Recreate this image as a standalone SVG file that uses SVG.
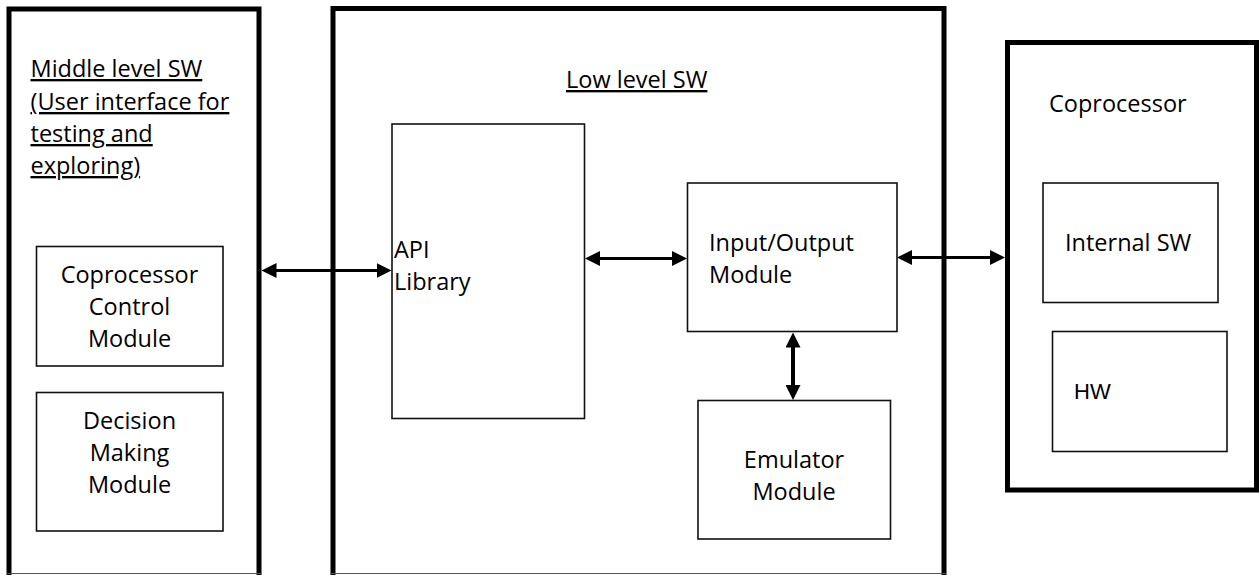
<svg xmlns="http://www.w3.org/2000/svg" width="1259" height="575" viewBox="0 0 1259 575">
<style>
.outer{fill:none;stroke:#000;stroke-width:5}
.edge{fill:none;stroke:#555;stroke-width:1.2}
.inner{fill:none;stroke:#111;stroke-width:1.6}
.t{font-family:"Open Sans","Liberation Sans",sans-serif;font-size:23.5px;fill:#000}
.u{text-decoration:underline}
.c{text-anchor:middle}
.hw{font-family:"Liberation Sans",Arial,sans-serif;font-size:22px;fill:#000}
.conn{fill:none;stroke:#000;stroke-width:3}
</style>
<defs>
<marker id="ah" viewBox="0 0 15 15" refX="11" refY="7.5" markerWidth="15" markerHeight="15" markerUnits="userSpaceOnUse" orient="auto-start-reverse">
<path d="M0,0 L15,7.5 L0,15 z" fill="#000"/>
</marker>
</defs>
<rect width="1259" height="575" fill="#fff"/>

<g id="middle-level-sw">
<path class="outer" d="M9,590 V9 H259 V590"/>
<line class="edge" x1="6.5" y1="573.5" x2="261.5" y2="573.5"/>
<text class="t u" x="30.5" y="77">Middle level SW</text>
<text class="t u" x="30.5" y="110">(User interface for</text>
<text class="t u" x="30.5" y="142">testing and</text>
<text class="t u" x="30.5" y="174">exploring)</text>
</g>

<g id="coprocessor-control-module">
<rect class="inner" x="36.5" y="246.5" width="186.5" height="119.5"/>
<text class="t c" x="129.5" y="283">Coprocessor</text>
<text class="t c" x="129.5" y="315">Control</text>
<text class="t c" x="129.5" y="347">Module</text>
</g>

<g id="decision-making-module">
<rect class="inner" x="36.5" y="392.5" width="186.5" height="138.5"/>
<text class="t c" x="129.5" y="429">Decision</text>
<text class="t c" x="129.5" y="461">Making</text>
<text class="t c" x="129.5" y="493">Module</text>
</g>

<g id="low-level-sw">
<path class="outer" d="M333,590 V8.5 H944 V590"/>
<line class="edge" x1="330.5" y1="573.5" x2="946.5" y2="573.5"/>
<text class="t u" x="566" y="88">Low level SW</text>
</g>

<g id="api-library">
<rect class="inner" x="392" y="124" width="192.5" height="294.5"/>
<text class="t" x="394" y="257.5">API</text>
<text class="t" x="394" y="290">Library</text>
</g>

<g id="io-module">
<rect class="inner" x="687.5" y="183" width="209.5" height="148.5"/>
<text class="t" x="709" y="251">Input/Output</text>
<text class="t" x="709" y="283">Module</text>
</g>

<g id="emulator-module">
<rect class="inner" x="698" y="400.5" width="192.5" height="138.5"/>
<text class="t c" x="794" y="468">Emulator</text>
<text class="t c" x="794" y="500">Module</text>
</g>

<g id="coprocessor">
<rect class="outer" x="1007.5" y="42.5" width="249" height="447.5"/>
<text class="t" x="1049" y="111.5">Coprocessor</text>
</g>

<g id="internal-sw">
<rect class="inner" x="1043" y="183" width="175" height="119.5"/>
<text class="t" x="1065" y="251">Internal SW</text>
</g>

<g id="hw">
<rect class="inner" x="1052.5" y="331.5" width="174.5" height="120"/>
<text class="hw" x="1074" y="399">HW</text>
</g>

<g id="connectors">
<line class="conn" x1="265.5" y1="270.5" x2="387.5" y2="270.5" marker-start="url(#ah)" marker-end="url(#ah)"/>
<line class="conn" x1="589" y1="258.5" x2="683" y2="258.5" marker-start="url(#ah)" marker-end="url(#ah)"/>
<line class="conn" x1="901" y1="257.5" x2="1001" y2="257.5" marker-start="url(#ah)" marker-end="url(#ah)"/>
<line class="conn" style="stroke-width:4" x1="793" y1="336.5" x2="793" y2="396" marker-start="url(#ah)" marker-end="url(#ah)"/>
</g>
</svg>
